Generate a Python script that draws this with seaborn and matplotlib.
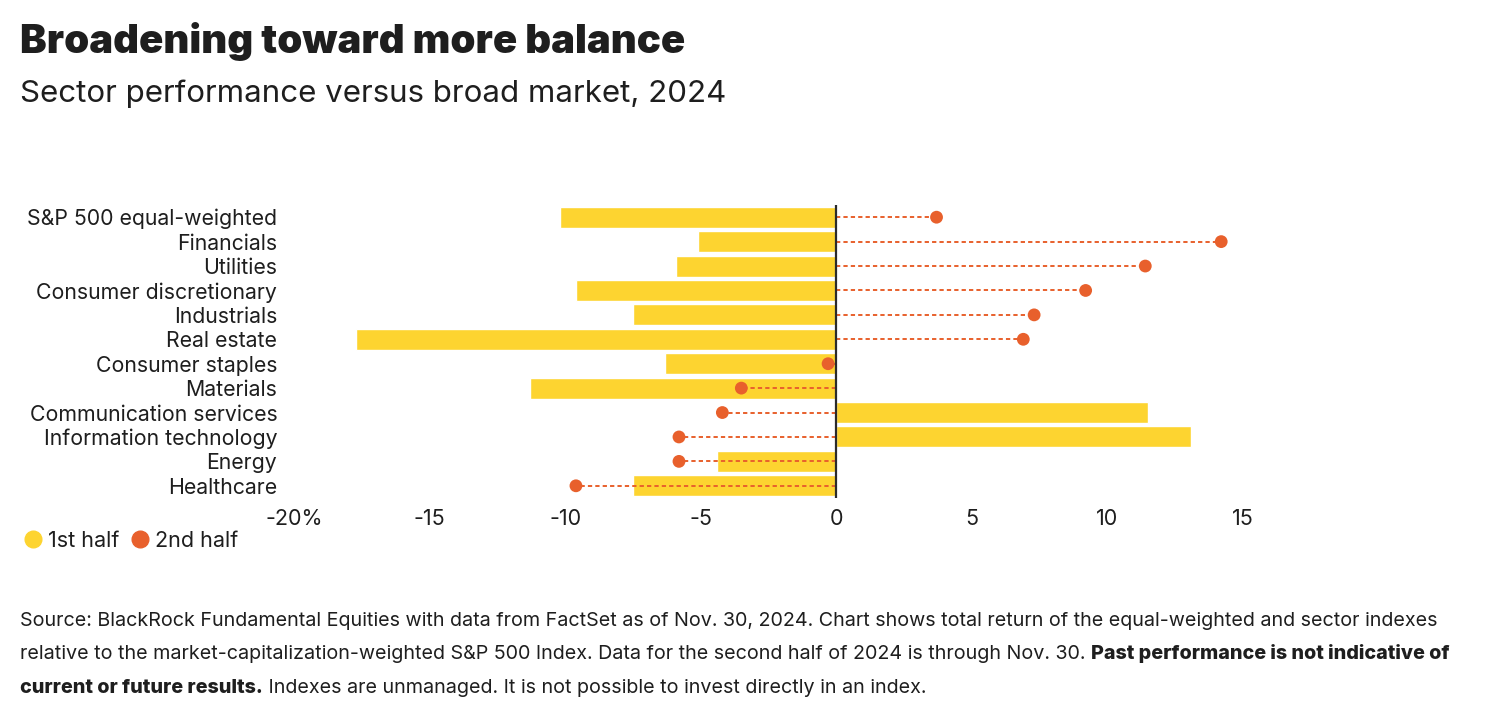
import matplotlib
matplotlib.use("Agg")
import matplotlib.pyplot as plt
import seaborn as sns
import pandas as pd
import numpy as np
from matplotlib.lines import Line2D

# data (relative return vs S&P 500, %)
sectors = ["S&P 500 equal-weighted", "Financials", "Utilities", "Consumer discretionary",
           "Industrials", "Real estate", "Consumer staples", "Materials",
           "Communication services", "Information technology", "Energy", "Healthcare"]
first_half = [-10.2, -5.1, -5.9, -9.6, -7.5, -17.7, -6.3, -11.3, 11.5, 13.1, -4.4, -7.5]
second_half = [3.7, 14.2, 11.4, 9.2, 7.3, 6.9, -0.3, -3.5, -4.2, -5.8, -5.8, -9.6]
x_ticks = [-20, -15, -10, -5, 0, 5, 10, 15]
x_tick_labels = ["-20%", "-15", "-10", "-5", "0", "5", "10", "15"]
legend_labels = ["1st half", "2nd half"]

YELLOW = "#FDD430"
ORANGE = "#E8602C"
TEXT = "#1e1e1e"

sns.set_theme(style="white")
plt.rcParams['font.family'] = ['Inter', 'DejaVu Sans']
plt.rcParams['text.color'] = TEXT

df = pd.DataFrame({"sector": sectors, "h1": first_half, "h2": second_half})
df["pos"] = np.arange(len(df))

fig = plt.figure(figsize=(14.88, 7.28), dpi=100)
W, H = 1488, 728
ax = fig.add_axes([294 / W, 1 - 498 / H, (1270 - 294) / W, (498 - 205) / H])

sns.barplot(data=df, x="h1", y="sector", orient="h", color=YELLOW, saturation=1,
            width=0.86, ax=ax, zorder=2)
ax.hlines(df["pos"], 0, df["h2"], colors=ORANGE, linestyles=(0, (2.2, 1.6)), lw=1.4, zorder=3)
sns.scatterplot(data=df, x="h2", y="pos", color=ORANGE, s=85, edgecolor="none",
                zorder=4, ax=ax, legend=False)
ax.axvline(0, color="#2b2b2b", lw=1.6, zorder=5)

ax.set_xlim(-20, 16)
ax.set_ylim(len(sectors) - 0.5, -0.5)
ax.set_xticks(x_ticks)
ax.set_xticklabels(x_tick_labels, fontsize=15.5, color=TEXT)
ax.set_yticks(df["pos"])
ax.set_yticklabels(sectors, fontsize=15.3, color=TEXT)
ax.tick_params(axis="y", length=0, pad=12)
ax.tick_params(axis="x", length=0, pad=8)
ax.set_xlabel("")
ax.set_ylabel("")
for s in ax.spines.values():
    s.set_visible(False)
ax.set_facecolor("none")

# legend
handles = [Line2D([], [], marker="o", ls="", color=YELLOW, markersize=12),
           Line2D([], [], marker="o", ls="", color=ORANGE, markersize=12)]
fig.legend(handles, legend_labels, loc="center left", bbox_to_anchor=(22 / W, 1 - 541 / H),
           ncol=2, frameon=False, fontsize=15.5, handletextpad=0.2, columnspacing=0.45,
           handlelength=1.0, borderpad=0, borderaxespad=0)

# titles
fig.text(20 / W, 1 - 53 / H, "Broadening toward more balance", fontsize=28.8,
         fontweight="black", va="baseline", ha="left")
fig.text(20 / W, 1 - 102 / H, "Sector performance versus broad market, 2024", fontsize=22.5,
         va="baseline", ha="left")

# footnote, three lines with bold pieces chained after the regular text
fs = 14.2
line1 = [("Source: BlackRock Fundamental Equities with data from FactSet as of Nov. 30, 2024. "
          "Chart shows total return of the equal-weighted and sector indexes", False)]
line2 = [("relative to the market-capitalization-weighted S&P 500 Index. Data for the second half "
          "of 2024 is through Nov. 30. ", False),
         ("Past performance is not indicative of", True)]
line3 = [("current or future results.", True),
         (" Indexes are unmanaged. It is not possible to invest directly in an index.", False)]

for parts, base in [(line1, 630), (line2, 663), (line3, 697)]:
    last = None
    for txt, bold in parts:
        w = "heavy" if bold else "normal"
        if last is None:
            last = fig.text(20 / W, 1 - base / H, txt, fontsize=fs, fontweight=w,
                            ha="left", va="bottom")
        else:
            last = ax.annotate(txt, xy=(1, 0), xycoords=last, xytext=(0, 0),
                               textcoords="offset points", fontsize=fs, fontweight=w,
                               ha="left", va="bottom", annotation_clip=False)

fig.savefig("out.png", dpi=100, facecolor="white")
